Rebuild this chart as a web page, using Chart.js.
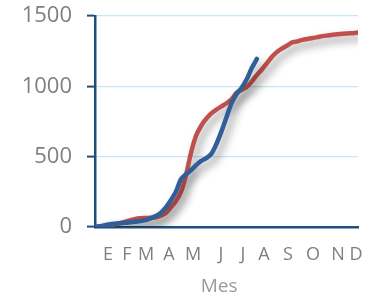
<!DOCTYPE html>
<html>
<head>
<meta charset="utf-8">
<script src="https://cdn.jsdelivr.net/npm/chart.js@4/dist/chart.umd.min.js"></script>
<style>
html,body{margin:0;padding:0;background:#fff;}
#wrap{width:378px;height:300px;position:relative;}
</style>
</head>
<body>
<div id="wrap"><canvas id="c" width="378" height="300"></canvas></div>
<script>
// Week index (0..52) for each point
const weeks = [0,1,2,3,4,5,6,7,8,9,10,11,12,13,14,15,16,17,18,19,20,21,22,23,24,25,26,27,28,29,30,31,32,33,34,35,36,37,38,39,40,41,42,43,44,45,46,47,48,49,50,51,52];
// Red series (cumulative, full year)
const redValues = [0,3,7,10,20,28,38,48,57,62,64,66,69,80,100,140,185,250,370,530,650,720,770,808,835,857,880,908,955,975,995,1035,1080,1120,1165,1210,1245,1270,1290,1312,1320,1330,1337,1343,1350,1357,1362,1367,1371,1374,1376,1378,1382];
// Blue series (cumulative, partial year)
const blueValues = [0,6,12,20,24,27,30,33,37,42,50,62,78,100,140,190,250,340,375,405,440,470,490,520,590,680,780,880,945,990,1050,1130,1195];
// Month tick labels and their positions (in weeks)
const monthLabels = ['E','F','M','A','M','J','J','A','S','O','N','D'];
const monthTickWeeks = [2.57,6.33,10.08,14.63,19.38,24.91,29.26,33.41,38.16,43.10,48.05,51.6];
const yTicks = [0,500,1000,1500];
const xTitle = 'Mes';

const toXY = (vals) => vals.map((v,i)=>({x:weeks[i], y:v}));

const shadowPlugin = {
  id:'shadow',
  beforeDatasetDraw(chart){
    const ctx = chart.ctx;
    ctx.save();
    ctx.shadowColor = 'rgba(0,0,0,0.42)';
    ctx.shadowBlur = 8;
    ctx.shadowOffsetX = 4;
    ctx.shadowOffsetY = 5;
  },
  afterDatasetDraw(chart){
    chart.ctx.restore();
  }
};

new Chart(document.getElementById('c'), {
  type:'line',
  data:{
    datasets:[
      {label:'B', data:toXY(blueValues), borderColor:'#2F5E98', borderWidth:4.5, pointRadius:0, tension:0.3, borderCapStyle:'round', borderJoinStyle:'round', fill:false, order:0},
      {label:'A', data:toXY(redValues), borderColor:'#C0504D', borderWidth:4.5, pointRadius:0, tension:0.3, borderCapStyle:'round', borderJoinStyle:'round', fill:false, order:1}
    ]
  },
  options:{
    responsive:false,
    animation:false,
    layout:{padding:{left:0,right:20,top:16,bottom:0}},
    plugins:{legend:{display:false}, tooltip:{enabled:false}},
    scales:{
      x:{
        type:'linear', min:0, max:52,
        afterBuildTicks(s){ s.ticks = monthTickWeeks.map(v=>({value:v})); },
        ticks:{
          autoSkip:false, maxRotation:0, padding:17,
          color:'#7f7f7f', font:{family:'Open Sans', size:18},
          callback:(v,i)=>monthLabels[i]
        },
        grid:{display:false, drawTicks:false},
        border:{display:true, color:'#1F4E79', width:2.5},
        title:{display:true, text:xTitle + '\u00a0\u00a0\u00a0', color:'#9a9a9a', font:{family:'Open Sans', size:19}, padding:{top:2,bottom:2}},
        afterFit(s){ s.height = 73; s.paddingLeft = 0; s.paddingRight = 0; }
      },
      y:{
        min:0, max:1500,
        afterBuildTicks(s){ s.ticks = yTicks.map(v=>({value:v})); },
        ticks:{color:'#7f7f7f', font:{family:'Open Sans', size:22}, padding:15, callback:(v)=>String(v)},
        grid:{color:'#CBE6F2', lineWidth:1.2, tickColor:'#1F4E79', tickLength:8, tickWidth:2},
        border:{display:true, color:'#1F4E79', width:2.5},
        afterFit(s){ s.width = 95; s.paddingTop = 0; s.paddingBottom = 0; }
      }
    }
  },
  plugins:[shadowPlugin]
});
</script>
</body>
</html>
